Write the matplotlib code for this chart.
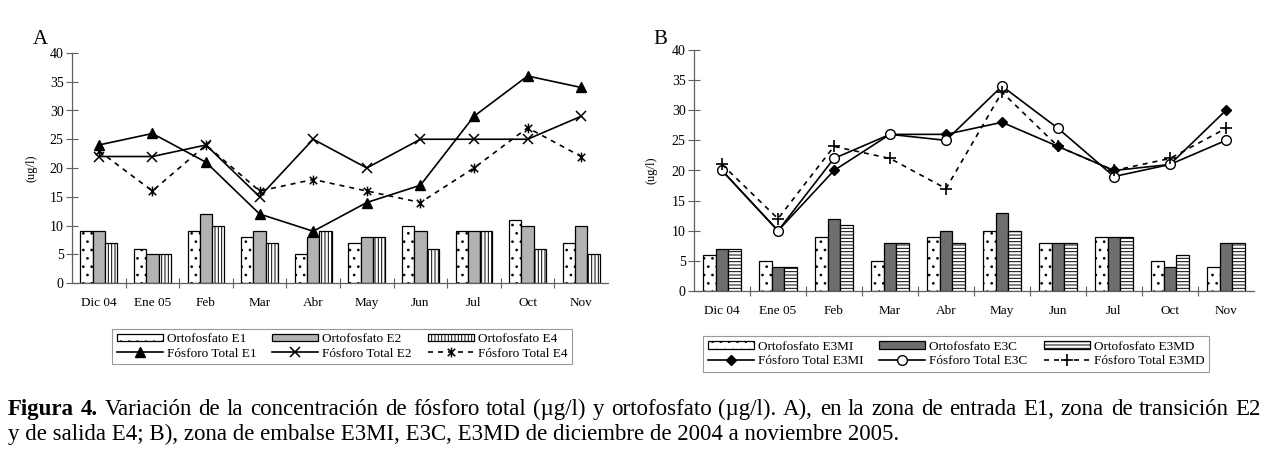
import matplotlib
matplotlib.use('Agg')
import matplotlib.pyplot as plt
import numpy as np
from matplotlib.path import Path

# ---------------- data ----------------
months = ["Dic 04", "Ene 05", "Feb", "Mar", "Abr", "May", "Jun", "Jul", "Oct", "Nov"]

# Panel A
orto_E1 = [9, 6, 9, 8, 5, 7, 10, 9, 11, 7]
orto_E2 = [9, 5, 12, 9, 8, 8, 9, 9, 10, 10]
orto_E4 = [7, 5, 10, 7, 9, 8, 6, 9, 6, 5]
pt_E1 = [24, 26, 21, 12, 9, 14, 17, 29, 36, 34]
pt_E2 = [22, 22, 24, 15, 25, 20, 25, 25, 25, 29]
pt_E4 = [23, 16, 24, 16, 18, 16, 14, 20, 27, 22]

# Panel B
orto_E3MI = [6, 5, 9, 5, 9, 10, 8, 9, 5, 4]
orto_E3C = [7, 4, 12, 8, 10, 13, 8, 9, 4, 8]
orto_E3MD = [7, 4, 11, 8, 8, 10, 8, 9, 6, 8]
pt_E3MI = [20, 10, 20, 26, 26, 28, 24, 20, 21, 30]
pt_E3C = [20, 10, 22, 26, 25, 34, 27, 19, 21, 25]
pt_E3MD = [21, 12, 24, 22, 17, 33, 24, 20, 22, 27]

labels_A = ["Ortofosfato E1", "Ortofosfato E2", "Ortofosfato E4",
            "Fósforo Total E1", "Fósforo Total E2", "Fósforo Total E4"]
labels_B = ["Ortofosfato E3MI", "Ortofosfato E3C", "Ortofosfato E3MD",
            "Fósforo Total E3MI", "Fósforo Total E3C", "Fósforo Total E3MD"]

yticks = [0, 5, 10, 15, 20, 25, 30, 35, 40]

# ---------------- style ----------------
SERIF = ['Liberation Serif', 'DejaVu Serif']
plt.rcParams['font.family'] = SERIF
plt.rcParams['hatch.linewidth'] = 0.7
plt.rcParams['hatch.color'] = 'black'

W, H = 1268, 461
fig = plt.figure(figsize=(W / 100, H / 100), dpi=100)


def px_axes(l, t, r, b):
    return fig.add_axes([l / W, 1 - b / H, (r - l) / W, (b - t) / H])


# asterisk-like marker: x with vertical bar
star_path = Path([(-1, -1), (1, 1), (-1, 1), (1, -1), (0, -1.3), (0, 1.3)],
                 [Path.MOVETO, Path.LINETO, Path.MOVETO, Path.LINETO, Path.MOVETO, Path.LINETO])

AX_COLOR = '#606060'


def style_axes(ax):
    x = np.arange(len(months))
    ax.set_xlim(-0.5, len(months) - 0.5)
    ax.set_ylim(0, 40)
    ax.set_yticks(yticks)
    ax.set_xticks(x)
    ax.set_xticklabels(months, fontsize=9.5)
    ax.set_xticks(np.arange(0.5, len(months) - 1, 1.0), minor=True)
    ax.tick_params(axis='x', which='major', length=0, pad=10)
    ax.tick_params(axis='x', which='minor', length=7, direction='inout', color=AX_COLOR, width=0.8)
    ax.tick_params(axis='y', which='major', length=8, direction='inout', color=AX_COLOR, width=0.8,
                   labelsize=10, pad=2)
    for s in ['top', 'right']:
        ax.spines[s].set_visible(False)
    for s in ['left', 'bottom']:
        ax.spines[s].set_color(AX_COLOR)
        ax.spines[s].set_linewidth(0.9)
    ax.set_facecolor('none')


bw = 0.23
x = np.arange(len(months))

# ---------------- Panel A ----------------
axA = px_axes(72, 53, 608, 283)
style_axes(axA)
bA1 = axA.bar(x - bw, orto_E1, bw, facecolor='white', edgecolor='black', hatch='..', linewidth=0.9)
bA2 = axA.bar(x, orto_E2, bw, facecolor='#b2b2b2', edgecolor='black', linewidth=0.9)
bA3 = axA.bar(x + bw, orto_E4, bw, facecolor='white', edgecolor='black', hatch='|||||', linewidth=0.9)
lA1, = axA.plot(x, pt_E1, color='black', lw=1.2, marker='^', ms=7, mfc='black', mec='black')
lA2, = axA.plot(x, pt_E2, color='black', lw=1.2, marker='x', ms=7, mew=1.1)
lA3, = axA.plot(x, pt_E4, color='black', lw=1.2, ls=(0, (3, 3)), marker=star_path, ms=7, mew=1.1,
                mfc='none', mec='black')
axA.set_ylabel('(ug/l)', fontsize=9)
axA.yaxis.set_label_coords((38 - 72) / 536, 0.5)
fig.text(40 / W, 1 - 40 / H, 'A', fontsize=15, ha='center', va='center')

# ---------------- Panel B ----------------
axB = px_axes(694, 50, 1254, 291)
style_axes(axB)
bB1 = axB.bar(x - bw, orto_E3MI, bw, facecolor='white', edgecolor='black', hatch='..', linewidth=0.9)
bB2 = axB.bar(x, orto_E3C, bw, facecolor='#6e6e6e', edgecolor='black', linewidth=0.9)
bB3 = axB.bar(x + bw, orto_E3MD, bw, facecolor='white', edgecolor='black', hatch='-----', linewidth=0.9)
lB1, = axB.plot(x, pt_E3MI, color='black', lw=1.2, marker='D', ms=5.5, mfc='black', mec='black')
lB2, = axB.plot(x, pt_E3C, color='black', lw=1.2, marker='o', ms=7, mfc='white', mec='black', mew=1.0)
lB3, = axB.plot(x, pt_E3MD, color='black', lw=1.2, ls=(0, (3, 3)), marker='+', ms=8, mew=1.2)
axB.set_ylabel('(ug/l)', fontsize=9)
axB.yaxis.set_label_coords((657 - 694) / 560, 0.5)
fig.text(660 / W, 1 - 40 / H, 'B', fontsize=15, ha='center', va='center')


# ---------------- legends ----------------
def make_legend(handles, labels, cx, cy):
    order = [0, 3, 1, 4, 2, 5]
    leg = fig.legend([handles[i] for i in order], [labels[i] for i in order],
                     loc='center', bbox_to_anchor=(cx / W, 1 - cy / H), ncol=3,
                     fontsize=9.5, frameon=True, fancybox=False, edgecolor='#808080',
                     handlelength=3.5, handleheight=0.55, handletextpad=0.3,
                     columnspacing=1.2, labelspacing=0.2, borderpad=0.35,
                     numpoints=1)
    leg.get_frame().set_linewidth(0.8)
    return leg


make_legend([bA1, bA2, bA3, lA1, lA2, lA3], labels_A, 342, 346.5)
make_legend([bB1, bB2, bB3, lB1, lB2, lB3], labels_B, 956, 354)

# ---------------- caption ----------------
CAP_FS = 16.5
fig.canvas.draw()
rend = fig.canvas.get_renderer()

line1 = [("Figura", True), ("4.", True)] + [(w, False) for w in
         "Variación de la concentración de fósforo total (µg/l) y ortofosfato (µg/l). A), en la zona de entrada E1, zona de transición E2".split()]
line2 = "y de salida E4; B), zona de embalse E3MI, E3C, E3MD de diciembre de 2004 a noviembre 2005."


def measure(s, bold):
    t = fig.text(0, 0, s, fontsize=CAP_FS, family=SERIF, weight='bold' if bold else 'normal')
    w = t.get_window_extent(rend).width
    t.remove()
    return w


x0, x1 = 8, 1261
widths = [measure(w, b) for w, b in line1]
gap = (x1 - x0 - sum(widths)) / (len(line1) - 1)
xp = x0
for (w, b), wd in zip(line1, widths):
    fig.text(xp / W, 1 - 415 / H, w, fontsize=CAP_FS, family=SERIF,
             weight='bold' if b else 'normal', ha='left', va='baseline')
    xp += wd + gap

fig.text(x0 / W, 1 - 440 / H, line2, fontsize=CAP_FS, family=SERIF, ha='left', va='baseline')

fig.savefig('out.png', dpi=100)
